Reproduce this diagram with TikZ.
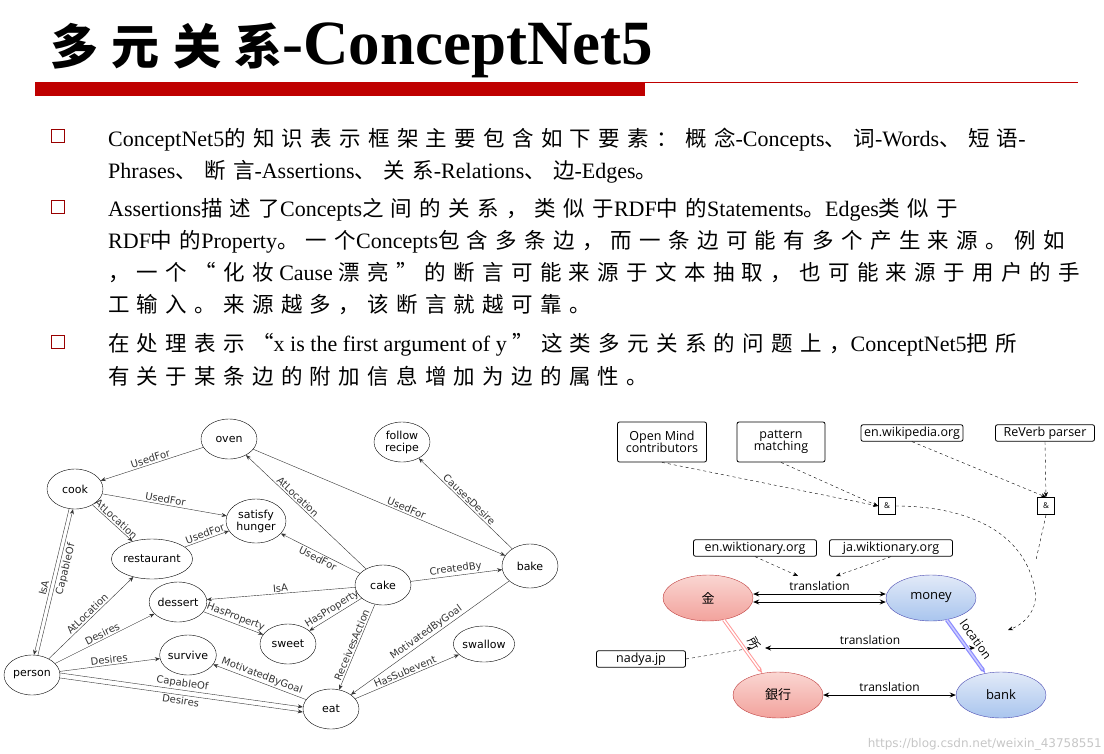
\documentclass[tikz,border=0pt]{standalone}
\usepackage{fontspec}
\setmainfont{Liberation Serif}
\newfontfamily\zhf[LetterSpace=34]{Noto Sans CJK SC}
\newfontfamily\zht[LetterSpace=28]{Noto Sans CJK SC}
\newfontfamily\jpf{Noto Sans CJK JP}
\newfontfamily\labf{DejaVu Sans}
\newfontfamily\osf{Open Sans}
\usetikzlibrary{shapes.geometric,arrows.meta}
\newcommand\zh[1]{{\zhf\fontsize{21.5}{22}\selectfont #1}}
\definecolor{pkt}{HTML}{FAD6D2}\definecolor{pkb}{HTML}{F2A29C}
\definecolor{blt}{HTML}{E2EAF8}\definecolor{blb}{HTML}{A9C5EE}
\tikzset{
 body/.style={anchor=base west,inner sep=0pt,font=\fontsize{22}{26}\selectfont},
 cn/.style={ellipse,draw,thin,minimum width=56pt,minimum height=40pt,inner sep=0pt,font=\labf\fontsize{11}{12}\selectfont,align=center},
 lab/.style={midway,sloped,above,inner sep=1.5pt,font=\labf\fontsize{10}{11}\selectfont},
 vlab/.style={midway,inner sep=2pt,rotate=76,font=\labf\fontsize{10}{11}\selectfont},
 ce/.style={-{Stealth[length=5pt,width=4pt]},thin,gray!40!black},
 src/.style={draw,rounded corners=2pt,thick,inner sep=2pt,font=\osf\fontsize{12.5}{15}\selectfont,align=center},
 dsh/.style={dashed,thin,-{Stealth[length=5pt,width=4pt]}},
 bul/.style={draw=red!60!black,thick,minimum size=13pt,inner sep=0pt},
 pk/.style={ellipse,draw=red!50!gray,top color=pkt,bottom color=pkb,minimum width=90pt,minimum height=46pt,font=\jpf\fontsize{13}{14}\selectfont},
 bl/.style={ellipse,draw=blue!40!gray,top color=blt,bottom color=blb,minimum width=90pt,minimum height=46pt,font=\osf\fontsize{13}{14}\selectfont},
 tr/.style={<->,>={Stealth[length=6pt,width=5pt]},thick},
 trl/.style={above,font=\osf\fontsize{12}{13}\selectfont},
}
\begin{document}
\begin{tikzpicture}[x=1pt,y=-1pt]
\useasboundingbox (0,0) rectangle (1104,753);
% title
\node[anchor=base west,inner sep=0pt] (title) at (50,64) {{\zht\bfseries\fontsize{48}{50}\selectfont 多元关系}{\bfseries\fontsize{63}{66}\selectfont -ConceptNet5}};
\fill[red!75!black] (35,82) rectangle (645,96);
\draw[red!75!black,thin] (645,82) -- (1078,82);
% bullets
\node[bul] (b1) at (58,136) {};
\node[bul] (b2) at (58,207) {};
\node[bul] (b3) at (58,342) {};
\node[body] (l1) at (108,146) {ConceptNet5\zh{的知识表示框架主要包含如下要素：概念}-Concepts\zh{、词}-Words\zh{、短语}-};
\node[body] (l2) at (108,178) {Phrases\zh{、断言}-Assertions\zh{、关系}-Relations\zh{、边}-Edges\zh{。}};
\node[body] (l3) at (108,216) {Assertions\zh{描述了}Concepts\zh{之间的关系，类似于}RDF\zh{中的}Statements\zh{。}Edges\zh{类似于}};
\node[body] (l4) at (108,248) {RDF\zh{中的}Property\zh{。一个}Concepts\zh{包含多条边，而一条边可能有多个产生来源。例如}};
\node[body] (l5) at (108,280) {\zh{，一个“化妆} Cause \zh{漂亮”的断言可能来源于文本抽取，也可能来源于用户的手}};
\node[body] (l6) at (108,312) {\zh{工输入。来源越多，该断言就越可靠。}};
\node[body] (l7) at (108,351) {\zh{在处理表示“}x is the first argument of y \zh{”这类多元关系的问题上，}ConceptNet5\zh{把所}};
\node[body] (l8) at (108,384) {\zh{有关于某条边的附加信息增加为边的属性。}};
% left graph
\node[cn] (oven) at (229,439) {oven};
\node[cn] (follow) at (402,442) {follow\\recipe};
\node[cn] (cook) at (75,489) {cook};
\node[cn,minimum width=60pt,minimum height=44pt] (sat) at (256,521) {satisfy\\hunger};
\node[cn,minimum width=60pt] (rest) at (152,559) {restaurant};
\node[cn,minimum height=44pt] (bake) at (530,566) {bake};
\node[cn] (cake) at (383,585) {cake};
\node[cn] (dess) at (178,602) {dessert};
\node[cn] (sweet) at (288,644) {sweet};
\node[cn,minimum width=50pt,minimum height=36pt] (swal) at (484,644) {swallow};
\node[cn] (surv) at (188,655) {survive};
\node[cn] (pers) at (32,675) {person};
\node[cn] (eat) at (331,709) {eat};
\draw[ce] (oven) -- node[lab]{UsedFor} (cook);
\draw[ce] (cook) -- node[lab]{UsedFor} (sat);
\draw[ce] (cook) -- node[lab]{AtLocation} (rest);
\draw[ce] (rest) -- node[lab]{UsedFor} (sat);
\draw[ce] (oven) -- node[lab,pos=.6]{UsedFor} (bake);
\draw[ce] (bake) -- node[lab]{CausesDesire} (follow);
\draw[ce] (cake) -- node[lab,pos=.6]{AtLocation} (oven);
\draw[ce] (cake) -- node[lab,below]{UsedFor} (sat);
\draw[ce] (cake) -- node[lab]{CreatedBy} (bake);
\draw[ce] (cake) -- node[lab]{IsA} (dess);
\draw[ce] (cake) -- node[lab]{HasProperty} (sweet);
\draw[ce] (dess) -- node[lab]{HasProperty} (sweet);
\draw[ce] (cake) -- node[lab]{ReceivesAction} (eat);
\draw[ce] (bake) -- node[lab]{MotivatedByGoal} (eat);
\draw[ce] (eat) -- node[lab]{HasSubevent} (swal);
\draw[ce] (eat) -- node[lab]{MotivatedByGoal} (surv);
\draw[ce] (pers) -- node[lab]{AtLocation} (rest);
\draw[ce] (pers) -- node[lab]{Desires} (dess);
\draw[ce] (pers) -- node[lab]{Desires} (surv);
\draw[ce] ([yshift=2]pers.east) -- node[lab]{CapableOf} ([yshift=2]eat.west);
\draw[ce] ([yshift=-3]pers.east) -- node[lab,below]{Desires} ([yshift=-3]eat.west);
\draw[ce] ([xshift=-6]cook.south) -- node[vlab,anchor=south,pos=.55]{IsA} ([xshift=2]pers.north);
\draw[ce] ([xshift=6]pers.north) -- node[vlab,anchor=north,pos=.6]{CapableOf} ([xshift=-2]cook.south);
% right graph
\node[src,minimum width=89pt,minimum height=40pt] (om) at (662,442) {Open Mind\\[-3pt]contributors};
\node[src,minimum width=88pt,minimum height=40pt] (pm) at (781,442) {pattern\\[-3pt]matching};
\node[src,minimum width=102pt] (wp) at (912,433) {en.wikipedia.org};
\node[src,minimum width=99pt] (rv) at (1045,433) {ReVerb parser};
\node[draw,thick,minimum size=17pt,inner sep=0pt,font=\osf\fontsize{8}{9}\selectfont] (a1) at (887,506) {\&};
\node[draw,thick,minimum size=17pt,inner sep=0pt,font=\osf\fontsize{8}{9}\selectfont] (a2) at (1046,506) {\&};
\node[src,minimum width=123pt] (ew) at (755,548) {en.wiktionary.org};
\node[src,minimum width=123pt] (jw) at (891,548) {ja.wiktionary.org};
\node[src,minimum width=89pt] (nj) at (641,659) {nadya.jp};
\node[pk] (jin) at (708,598) {金};
\node[bl] (money) at (931,598) {money};
\node[pk] (gin) at (778,695) {銀行};
\node[bl] (bank) at (1001,695) {bank};
\coordinate (loc) at (1008,630);
\coordinate (tr1) at (798,576);
\coordinate (tr2) at (836,576);
\coordinate (m1) at (752,648);
\draw[dsh] (om.south) -- (a1.west);
\draw[dsh] (pm.south) -- (a1.west);
\draw[dsh] (wp.south) -- (a2.north);
\draw[dsh] (rv.south) -- (a2.north);
\draw[dsh] (a1.east) to[out=0,in=100] (1035,590) to[out=-80,in=20] (loc);
\draw[dashed,thin] (a2.south) -- (1036,560);
\draw[dsh] (ew.south) -- (tr1);
\draw[dsh] (jw.south) -- (tr2);
\draw[dsh] (nj.east) -- (m1);
\draw[tr] ([yshift=4]jin.east) -- node[trl]{translation} ([yshift=4]money.west);
\draw[tr] ([yshift=-4]jin.east) -- ([yshift=-4]money.west);
\draw[tr] (765,648) -- node[trl]{translation} (975,648);
\draw[tr] (gin) -- node[trl]{translation} (bank);
\draw[draw=red!40,double=white,double distance=1.5pt,line width=1pt,-{Stealth[length=6pt]}] (jin) -- node[pos=.4,xshift=15,yshift=-2,inner sep=0pt,font=\jpf\fontsize{12}{13}\selectfont,rotate=-60]{所} (gin);
\draw[draw=blue!45,double=blue!20,double distance=1.5pt,line width=1.2pt,-{Stealth[length=6pt]}] (money) -- node[midway,sloped,above=7pt,inner sep=0pt,font=\osf\fontsize{12}{13}\selectfont]{location} (bank);
\node[anchor=south east,inner sep=2pt,text=gray!45,font=\labf\fontsize{12}{13}\selectfont] (wm) at (1104,753) {https://blog.csdn.net/weixin\_43758551};
\end{tikzpicture}
\end{document}
